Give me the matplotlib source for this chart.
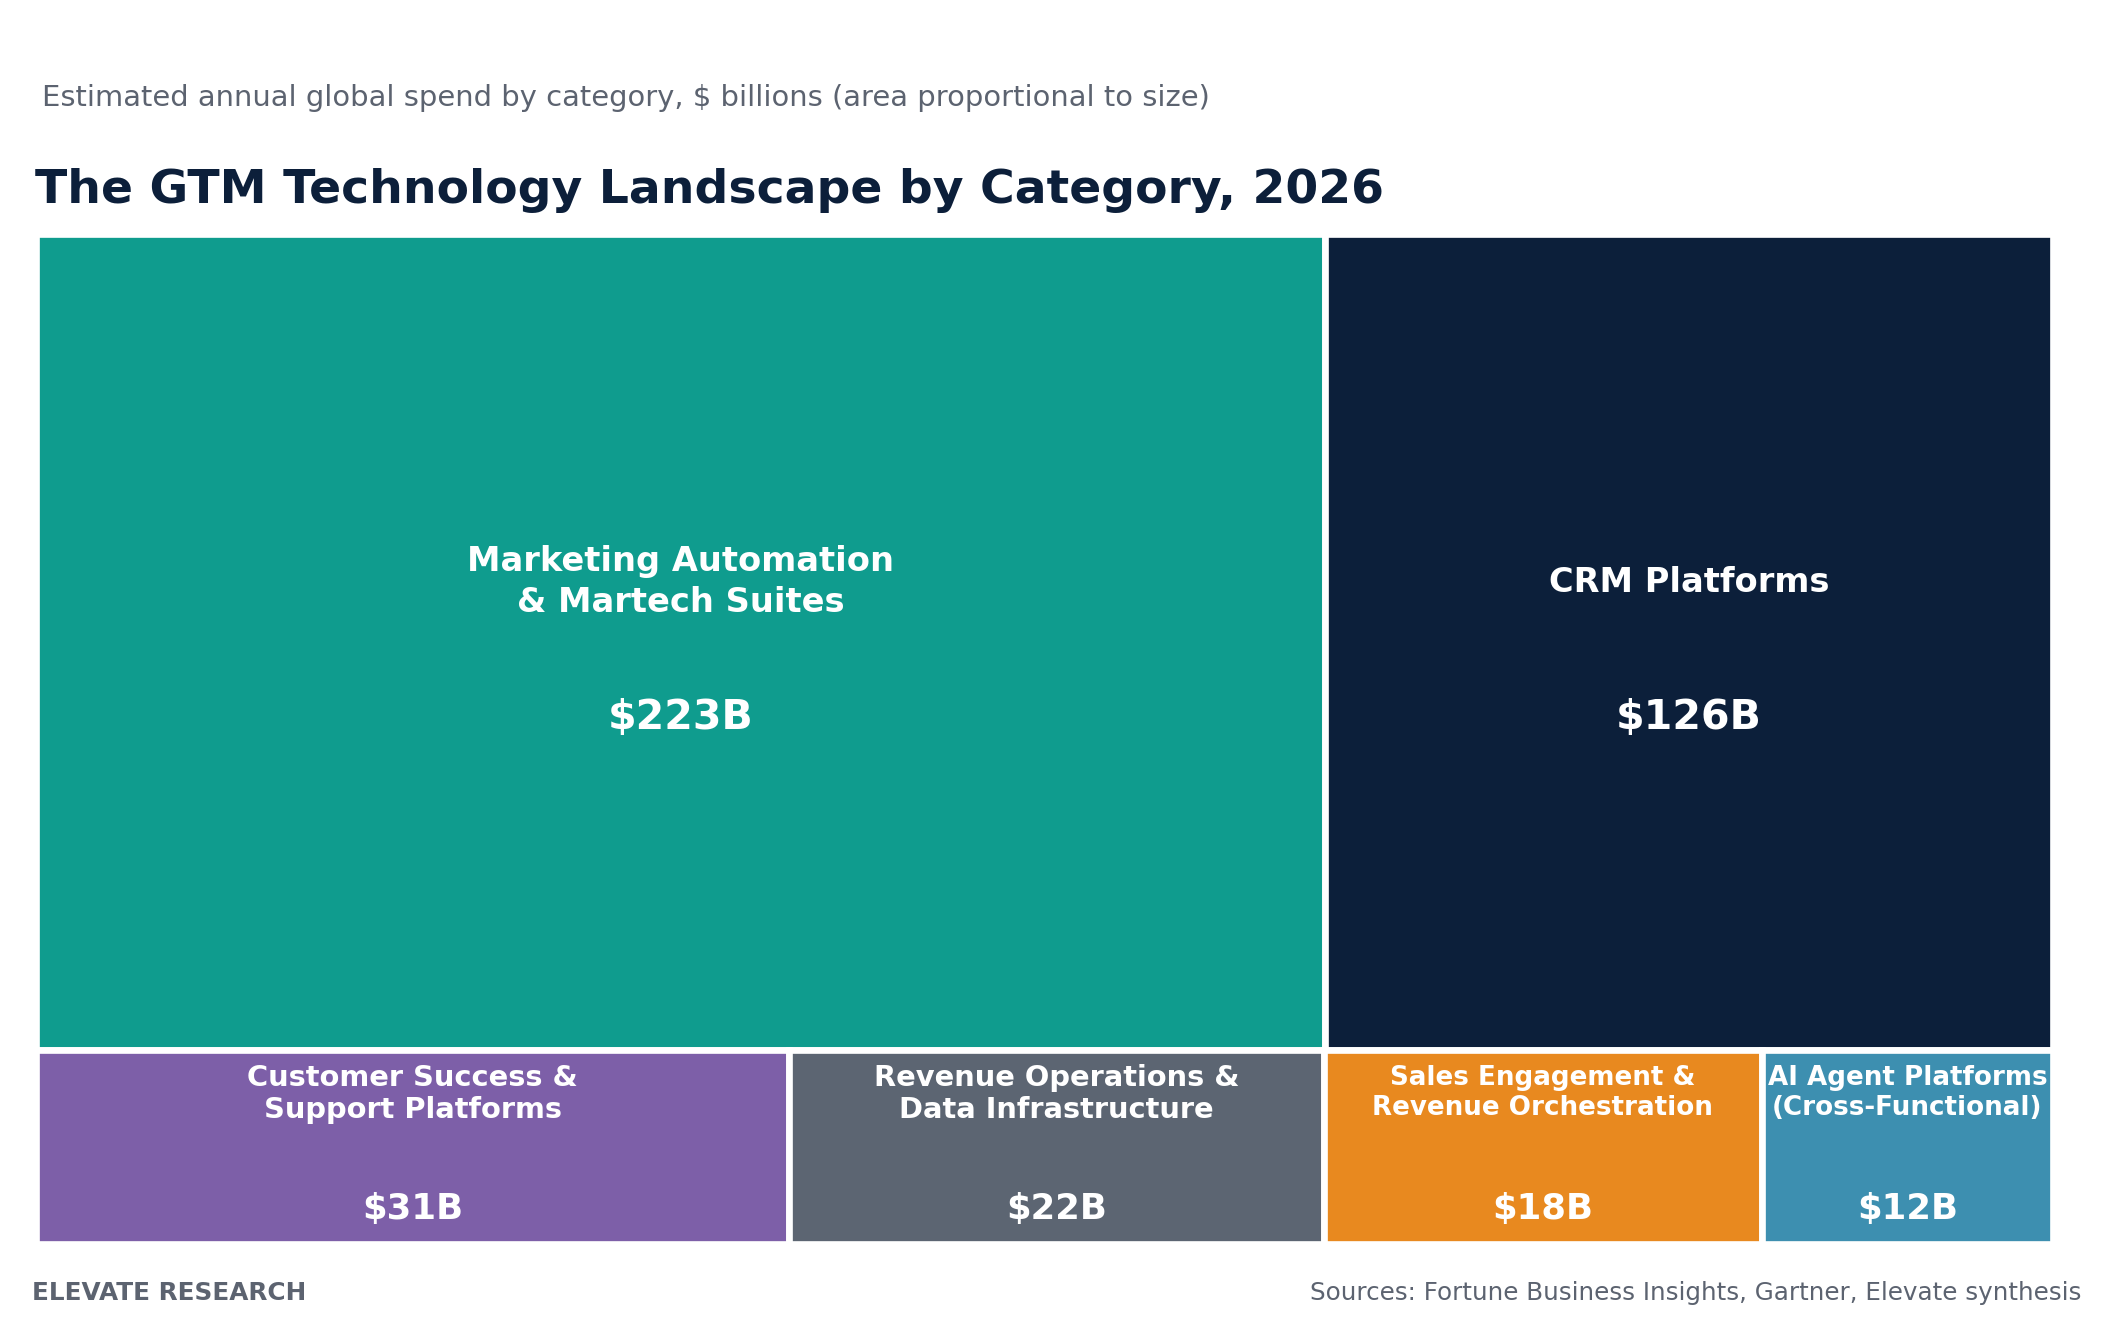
import matplotlib
matplotlib.use("Agg")
import matplotlib.pyplot as plt
from matplotlib.patches import Rectangle

# data
categories = [
    "Marketing Automation\n& Martech Suites",
    "CRM Platforms",
    "Customer Success &\nSupport Platforms",
    "Revenue Operations &\nData Infrastructure",
    "Sales Engagement &\nRevenue Orchestration",
    "AI Agent Platforms\n(Cross-Functional)",
]
spend = [223, 126, 31, 22, 18, 12]
rows = [[0, 1], [2, 3, 4, 5]]
colors = ["#0F9C8E", "#0C1F3A", "#7D5FA8", "#5C6572", "#E8891F", "#3D8FB0"]

TITLE = "The GTM Technology Landscape by Category, 2026"
SUBTITLE = "Estimated annual global spend by category, $ billions (area proportional to size)"
SOURCE = "Sources: Fortune Business Insights, Gartner, Elevate synthesis"
BRAND = "ELEVATE RESEARCH"

NAVY = "#0C1F3A"
GREY = "#5C6370"

fig = plt.figure(figsize=(10.56, 6.6), dpi=200)
ax = fig.add_axes([0.01696, 0.05776, 0.95523, 0.7651])
ax.set_xlim(0, 1)
ax.set_ylim(0, 1)
ax.axis("off")

total = float(sum(spend))
y_top = 1.0
for r, idx in enumerate(rows):
    row_sum = sum(spend[i] for i in idx)
    h = row_sum / total
    y0 = y_top - h
    x0 = 0.0
    for i in idx:
        w = spend[i] / row_sum
        ax.add_patch(Rectangle((x0, y0), w, h, facecolor=colors[i],
                               edgecolor="white", linewidth=2.4))
        cx = x0 + w / 2
        if r == 0:
            cy = y0 + h / 2
            ax.annotate(categories[i], (cx, cy), xytext=(0, 21.5),
                        textcoords="offset points", ha="center", va="center",
                        color="white", fontsize=12.1, fontweight="bold",
                        linespacing=1.32)
            ax.annotate(f"${spend[i]}B", (cx, cy), xytext=(0, -27.3),
                        textcoords="offset points", ha="center", va="center",
                        color="white", fontsize=14.8, fontweight="bold")
        else:
            small = w < 0.25
            ax.annotate(categories[i], (cx, y_top), xytext=(0, -5.5 if small else -5.0),
                        textcoords="offset points", ha="center", va="top",
                        color="white", fontsize=9.4 if small else 10.4,
                        fontweight="bold", linespacing=1.2)
            ax.annotate(f"${spend[i]}B", (cx, y0), xytext=(0, 12.6),
                        textcoords="offset points", ha="center", va="center",
                        color="white", fontsize=12.8, fontweight="bold")
        x0 += w
    y_top = y0

fig.text(0.0198, 0.9255, SUBTITLE, ha="left", va="center",
         fontsize=10.45, color=GREY)
fig.text(0.0166, 0.8555, TITLE, ha="left", va="center",
         fontsize=17, fontweight="bold", color=NAVY)
fig.text(0.0153, 0.0206, BRAND, ha="left", va="center",
         fontsize=8.9, fontweight="bold", color=GREY)
fig.text(0.9853, 0.0206, SOURCE, ha="right", va="center",
         fontsize=8.85, color=GREY)

fig.savefig("out.png", dpi=200, facecolor="white")
